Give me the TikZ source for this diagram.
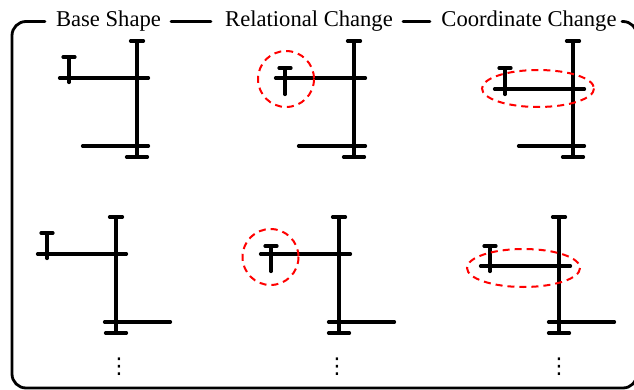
\documentclass[tikz,border=0pt]{standalone}
\usepackage{fontspec}
\usepackage{graphicx}
\setmainfont{Liberation Serif}
\newfontfamily\symfont{DejaVu Sans}
\newcommand\myvdots{\resizebox{!}{15.6pt}{\symfont ⋮}}
\begin{document}
\begin{tikzpicture}[x=1pt,y=-1pt,
  frame/.style={line width=2.8pt, line cap=round},
  stroke/.style={line width=3.2pt, line cap=round},
  hl/.style={red, line width=2pt, dash pattern=on 7pt off 5pt},
  lbl/.style={font=\fontsize{22.6}{26}\selectfont, inner sep=0pt, anchor=base},
  dts/.style={inner sep=0pt, anchor=center}]
\useasboundingbox (0,0) rectangle (634,390);
% frame
\draw[frame, rounded corners=14pt] (45,21.5) -- (12,21.5) -- (12,388) -- (637,388) -- (637,21.5) -- (622,21.5);
\draw[frame] (171,21.5) -- (211,21.5);
\draw[frame] (403,21.5) -- (430,21.5);
% labels
\node[lbl] (t1) at (108.5,26.5) {Base Shape};
\node[lbl] (t2) at (309,26.5) {Relational Change};
\node[lbl] (t3) at (529,26.5) {Coordinate Change};
% shape 1 (top-left)
\draw[stroke] (137,41) -- (137,157);
\draw[stroke] (130.5,41) -- (143.5,41);
\draw[stroke] (126.5,157) -- (147.5,157);
\draw[stroke] (59.5,78) -- (148.5,78);
\draw[stroke] (69,57) -- (69,82.5);
\draw[stroke] (63,57) -- (75,57);
\draw[stroke] (82.5,146) -- (148.5,146);
% shape 2 (top-middle)
\draw[stroke] (354,41) -- (354,157);
\draw[stroke] (347.5,41) -- (360.5,41);
\draw[stroke] (343.5,157) -- (364.5,157);
\draw[stroke] (275.5,78) -- (365.5,78);
\draw[stroke] (285,68) -- (285,94.5);
\draw[stroke] (279,68) -- (291,68);
\draw[stroke] (298.5,146) -- (365.5,146);
\draw[hl] (286,79) circle[radius=28];
% shape 3 (top-right)
\draw[stroke] (573,41) -- (573,157);
\draw[stroke] (566.5,41) -- (579.5,41);
\draw[stroke] (562.5,157) -- (583.5,157);
\draw[stroke] (494.5,89) -- (584.5,89);
\draw[stroke] (505,68) -- (505,94.5);
\draw[stroke] (499,68) -- (511,68);
\draw[stroke] (518.5,146) -- (584.5,146);
\draw[hl] (538,88.5) ellipse[x radius=56, y radius=18.5];
% shape 4 (bottom-left)
\draw[stroke] (116,217) -- (116,333);
\draw[stroke] (109.5,217) -- (122.5,217);
\draw[stroke] (105.5,333) -- (126.5,333);
\draw[stroke] (37.5,254) -- (126.5,254);
\draw[stroke] (47,233) -- (47,258.5);
\draw[stroke] (41,233) -- (53,233);
\draw[stroke] (104.5,322) -- (170.5,322);
% shape 5 (bottom-middle)
\draw[stroke] (339,217) -- (339,333);
\draw[stroke] (332.5,217) -- (345.5,217);
\draw[stroke] (328.5,333) -- (349.5,333);
\draw[stroke] (260.5,254) -- (350.5,254);
\draw[stroke] (271,246) -- (271,271.5);
\draw[stroke] (265,246) -- (277,246);
\draw[stroke] (328.5,322) -- (394.5,322);
\draw[hl] (270.5,257) circle[radius=28];
% shape 6 (bottom-right)
\draw[stroke] (559,217) -- (559,333);
\draw[stroke] (552.5,217) -- (565.5,217);
\draw[stroke] (548.5,333) -- (569.5,333);
\draw[stroke] (480.5,266) -- (570.5,266);
\draw[stroke] (490,246) -- (490,271.5);
\draw[stroke] (484,246) -- (496,246);
\draw[stroke] (548.5,322) -- (614.5,322);
\draw[hl] (523.5,268) ellipse[x radius=56.5, y radius=19];
% dots
\node[dts] (d1) at (119,366.7) {\myvdots};
\node[dts] (d2) at (337,366.7) {\myvdots};
\node[dts] (d3) at (559,366.7) {\myvdots};
\end{tikzpicture}
\end{document}
